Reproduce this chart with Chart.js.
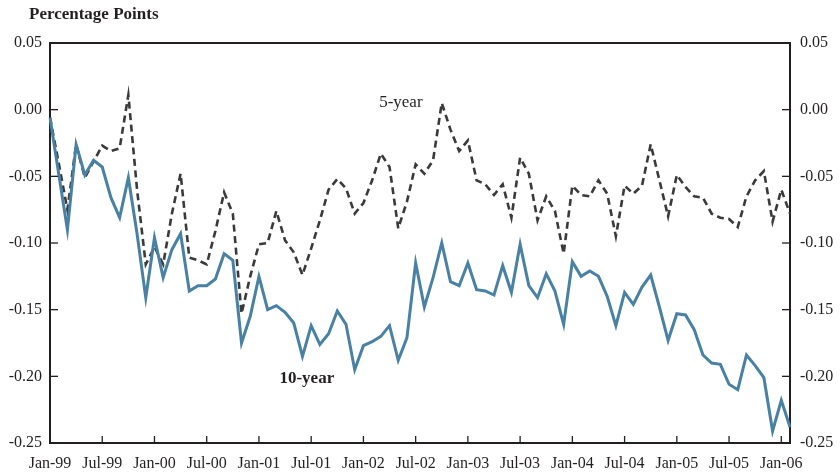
<!DOCTYPE html>
<html>
<head>
<meta charset="utf-8">
<script src="https://cdn.jsdelivr.net/npm/chart.js@4.4.1/dist/chart.umd.min.js"></script>
<style>
html,body{margin:0;padding:0;background:#fff;}
#wrap{width:840px;height:475px;}
</style>
</head>
<body>
<div id="wrap"><canvas id="c" width="840" height="475"></canvas></div>
<script>
// ---- data ----
const startYear = 1999;
const monthNames = ["Jan","Feb","Mar","Apr","May","Jun","Jul","Aug","Sep","Oct","Nov","Dec"];
const nMonths = 86; // Jan-99 .. Feb-06
const categories = [];
for (let i = 0; i < nMonths; i++) {
  const y = startYear + Math.floor(i / 12);
  categories.push(monthNames[i % 12] + "-" + String(y % 100).padStart(2, "0"));
}
const tickLabels = ["Jan-99","Jul-99","Jan-00","Jul-00","Jan-01","Jul-01","Jan-02","Jul-02","Jan-03","Jul-03","Jan-04","Jul-04","Jan-05","Jul-05","Jan-06"];
const yTicks = [0.05, 0.00, -0.05, -0.10, -0.15, -0.20, -0.25];

const tenYear = [
 -0.006,-0.048,-0.090,-0.026,-0.049,-0.038,-0.043,-0.066,-0.081,-0.051,-0.093,-0.141,
 -0.096,-0.126,-0.105,-0.093,-0.136,-0.132,-0.132,-0.127,-0.108,-0.113,-0.175,-0.155,
 -0.125,-0.150,-0.147,-0.152,-0.160,-0.185,-0.162,-0.176,-0.168,-0.151,-0.161,-0.195,
 -0.177,-0.174,-0.170,-0.162,-0.188,-0.171,-0.115,-0.148,-0.126,-0.100,-0.129,-0.132,
 -0.115,-0.135,-0.136,-0.139,-0.117,-0.137,-0.101,-0.132,-0.141,-0.123,-0.136,-0.161,
 -0.114,-0.125,-0.121,-0.125,-0.140,-0.162,-0.137,-0.146,-0.133,-0.124,-0.148,-0.173,
 -0.153,-0.154,-0.165,-0.184,-0.190,-0.191,-0.206,-0.210,-0.184,-0.192,-0.201,-0.241,
 -0.218,-0.238
];
const fiveYear = [
 -0.006,-0.040,-0.075,-0.026,-0.051,-0.039,-0.027,-0.031,-0.029, 0.011,-0.060,-0.116,
 -0.103,-0.116,-0.078,-0.048,-0.111,-0.113,-0.116,-0.091,-0.062,-0.078,-0.153,-0.125,
 -0.101,-0.100,-0.076,-0.098,-0.107,-0.124,-0.104,-0.083,-0.060,-0.052,-0.059,-0.078,
 -0.070,-0.053,-0.033,-0.043,-0.089,-0.069,-0.041,-0.048,-0.038, 0.005,-0.015,-0.031,
 -0.023,-0.053,-0.056,-0.064,-0.056,-0.081,-0.036,-0.048,-0.083,-0.065,-0.076,-0.108,
 -0.057,-0.064,-0.065,-0.053,-0.063,-0.095,-0.057,-0.063,-0.057,-0.026,-0.053,-0.080,
 -0.049,-0.058,-0.065,-0.066,-0.078,-0.081,-0.082,-0.088,-0.065,-0.053,-0.046,-0.084,
 -0.060,-0.078
];

// ---- style ----
const AXIS = "#231f20";
const SERIF = "'Liberation Serif','DejaVu Serif',serif";
const seriesLabels = [
  {text: "5-year",  x: 40.3, y: 0.0055, bold: false},
  {text: "10-year", x: 29.5, y: -0.2015, bold: true}
];

function fmt(v) {
  if (Math.abs(v) < 1e-9) return "0.00";
  return v.toFixed(2);
}

const decorations = {
  id: "decorations",
  afterDraw(chart) {
    const ctx = chart.ctx;
    const a = chart.chartArea;
    const xs = chart.scales.x, ys = chart.scales.y;
    ctx.save();
    ctx.strokeStyle = AXIS;
    ctx.lineWidth = 2;
    ctx.lineCap = "butt";
    // top border
    ctx.beginPath();
    ctx.moveTo(a.left - 1, a.top);
    ctx.lineTo(a.right + 1, a.top);
    ctx.stroke();
    // inward ticks
    ctx.lineWidth = 1.3;
    ys.ticks.forEach(t => {
      const py = ys.getPixelForValue(t.value);
      ctx.beginPath(); ctx.moveTo(a.left, py); ctx.lineTo(a.left + 8, py); ctx.stroke();
      ctx.beginPath(); ctx.moveTo(a.right, py); ctx.lineTo(a.right - 8, py); ctx.stroke();
    });
    for (let i = 0; i < categories.length; i += 6) {
      const px = xs.getPixelForValue(i);
      ctx.beginPath(); ctx.moveTo(px, a.bottom); ctx.lineTo(px, a.bottom - 7); ctx.stroke();
    }
    // title
    ctx.fillStyle = AXIS;
    ctx.font = "bold 17px " + SERIF;
    ctx.textAlign = "left";
    ctx.textBaseline = "middle";
    ctx.fillText("Percentage Points", 29, 15);
    // series labels
    seriesLabels.forEach(l => {
      ctx.font = (l.bold ? "bold " : "") + "17px " + SERIF;
      ctx.textAlign = "center";
      ctx.fillText(l.text, xs.getPixelForValue(l.x), ys.getPixelForValue(l.y));
    });
    ctx.restore();
  }
};

new Chart(document.getElementById("c"), {
  type: "line",
  data: {
    labels: categories,
    datasets: [
      {label: "10-year", data: tenYear, borderColor: "#4881a3", borderWidth: 3, pointRadius: 0, tension: 0, fill: false, yAxisID: "y", borderJoinStyle: "miter"},
      {label: "5-year", data: fiveYear, borderColor: "#3a3a3a", borderWidth: 2.6, borderDash: [7, 4.5], pointRadius: 0, tension: 0, fill: false, yAxisID: "y"}
    ]
  },
  options: {
    responsive: false,
    animation: false,
    devicePixelRatio: 1,
    layout: {padding: {top: 43, left: 0, right: 0, bottom: 0}},
    plugins: {legend: {display: false}, tooltip: {enabled: false}, title: {display: false}},
    scales: {
      x: {
        type: "category",
        offset: false,
        grid: {display: false, drawTicks: false},
        border: {display: true, color: AXIS, width: 2},
        ticks: {
          autoSkip: false, maxRotation: 0, padding: 11,
          color: AXIS, font: {family: SERIF, size: 16},
          callback: function(v, i) { return i % 6 === 0 ? tickLabels[i / 6] : null; }
        },
        afterFit(s) { s.height = 32; }
      },
      y: {
        position: "left", min: -0.25, max: 0.05,
        grid: {display: false, drawTicks: false},
        border: {display: true, color: AXIS, width: 2},
        afterBuildTicks(s) { s.ticks = yTicks.map(v => ({value: v})); },
        ticks: {padding: 8, color: AXIS, font: {family: SERIF, size: 16}, callback: v => fmt(v)},
        afterFit(s) { s.width = 50; }
      },
      y2: {
        position: "right", min: -0.25, max: 0.05,
        grid: {display: false, drawTicks: false},
        border: {display: true, color: AXIS, width: 2},
        afterBuildTicks(s) { s.ticks = yTicks.map(v => ({value: v})); },
        ticks: {padding: 10, color: AXIS, font: {family: SERIF, size: 16}, callback: v => fmt(v)},
        afterFit(s) { s.width = 50; }
      }
    }
  },
  plugins: [decorations]
});
</script>
</body>
</html>
